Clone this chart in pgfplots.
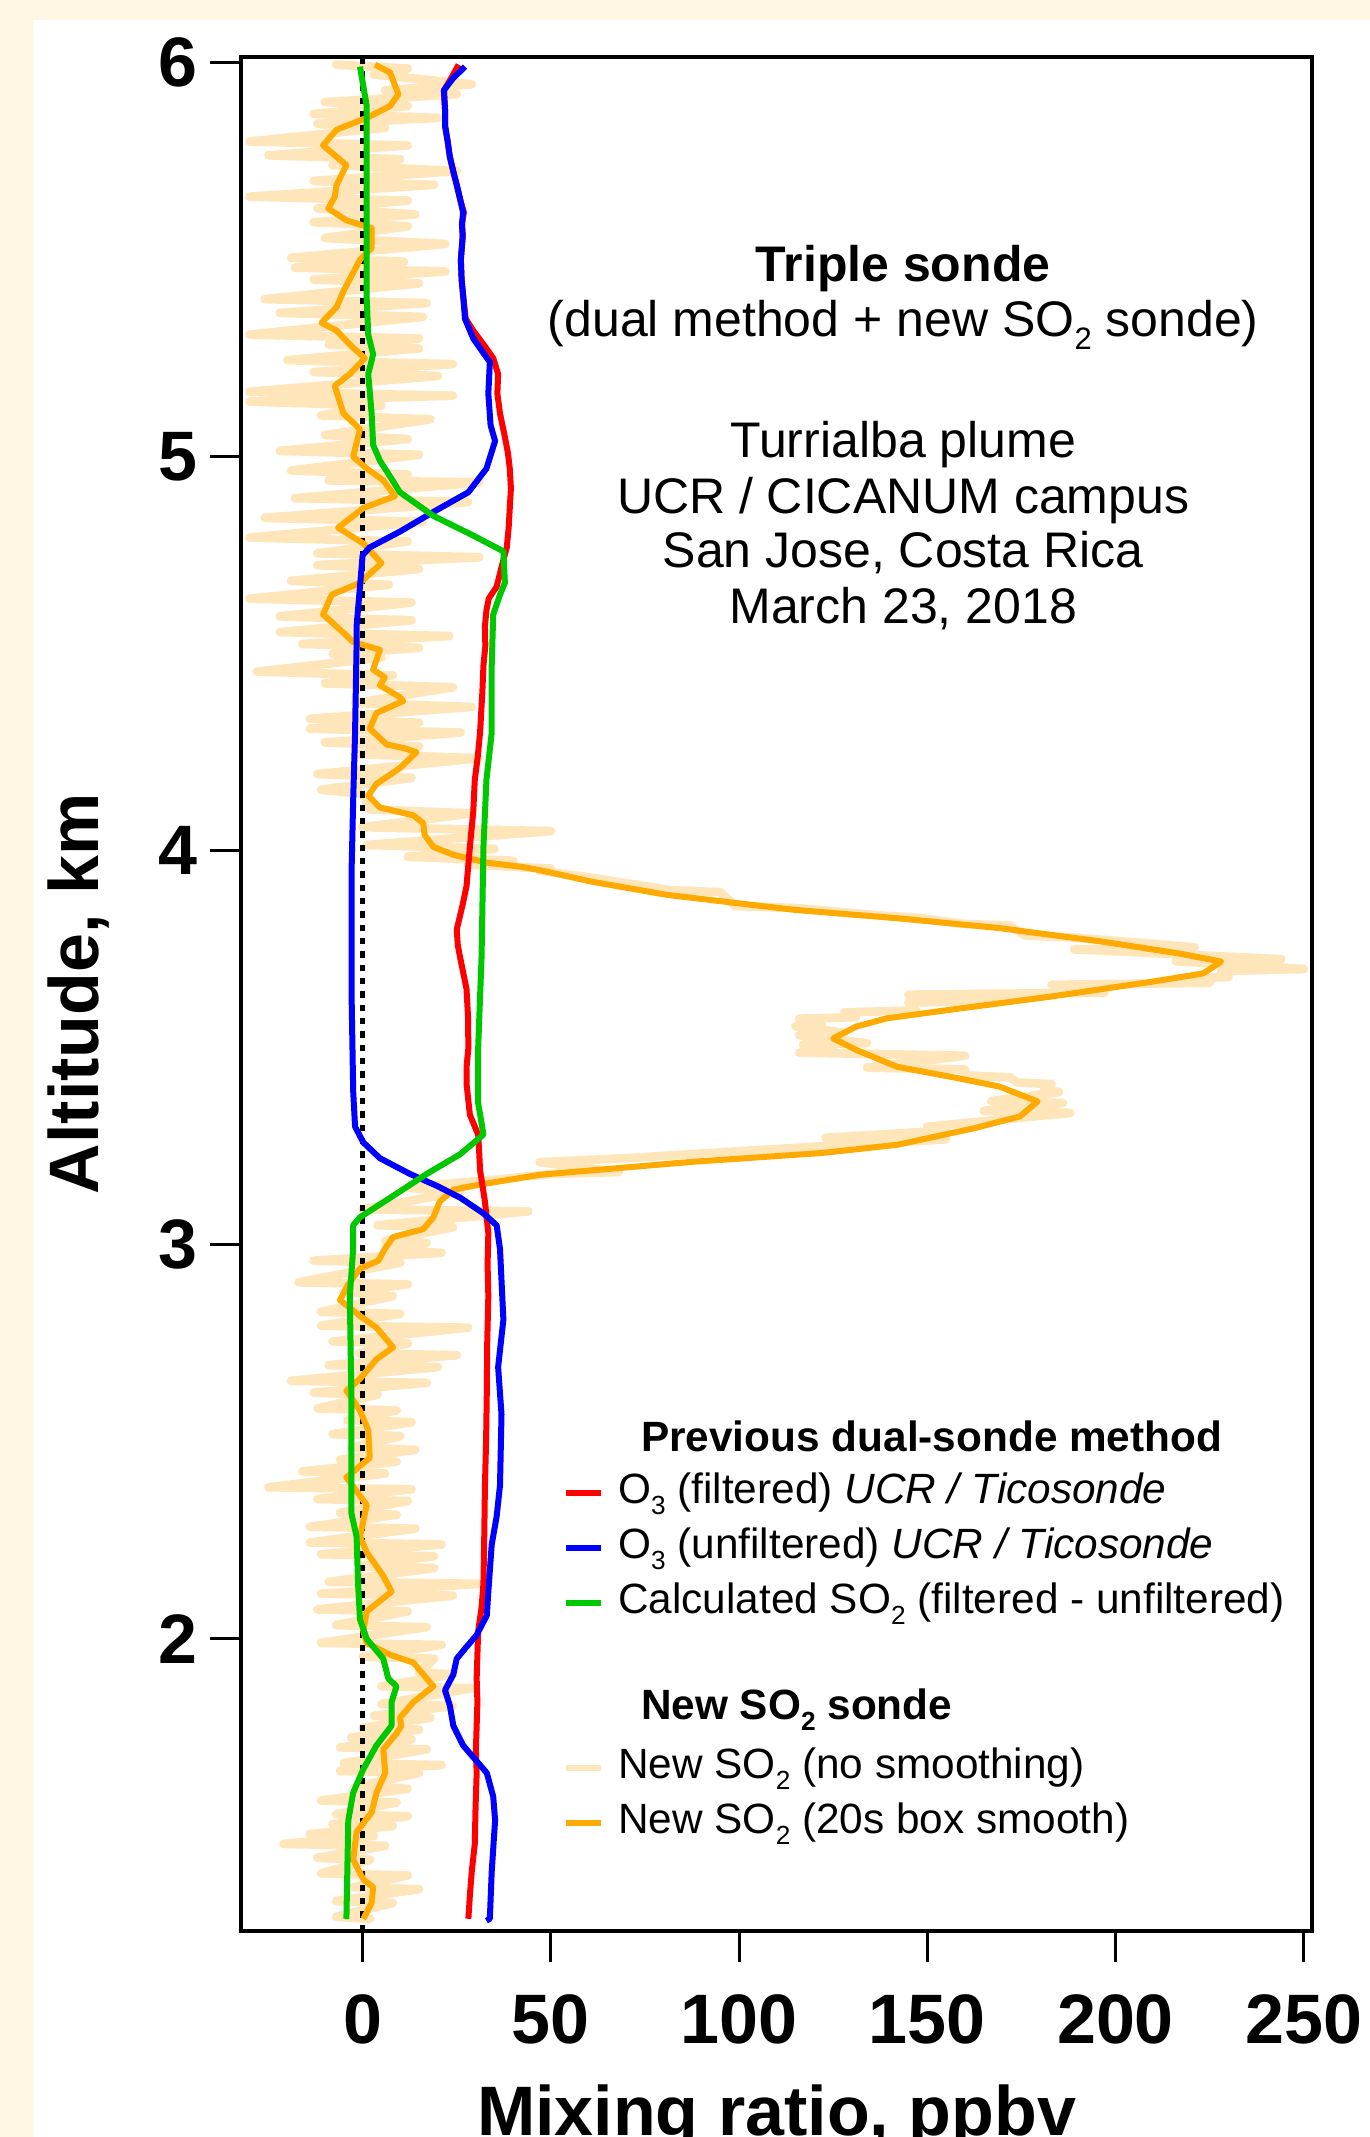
\documentclass[border=0pt]{standalone}
\usepackage{fontspec}
\setmainfont{Liberation Sans}
\usepackage{graphicx}
\usepackage{pgfplots}
\pgfplotsset{compat=1.18}
\definecolor{bgcream}{RGB}{255,247,228}
\definecolor{rawor}{RGB}{255,229,186}
\definecolor{smor}{RGB}{255,170,0}
\definecolor{grn}{RGB}{0,200,0}
\newcommand{\sub}[1]{\raisebox{-0.25em}{\scalebox{0.62}{#1}}}
\newcommand{\txt}{\fontsize{15}{16.5}\selectfont}
\newcommand{\lgd}{\fontsize{12.7}{16.5}\selectfont}
\begin{document}
\begin{tikzpicture}
\useasboundingbox (0,0) rectangle (410.7pt,641.1pt);
\fill[bgcream] (-2pt,-2pt) rectangle (413pt,643pt);
\fill[white] (9.9pt,-2pt) rectangle (413pt,635.1pt);
\begin{axis}[
  at={(72.3pt,61.8pt)}, anchor=south west,
  scale only axis, width=321.3pt, height=562.2pt,
  xmin=-32.3, xmax=252.2, ymin=1.259, ymax=6.0145,
  axis line style={line width=1.2pt},
  tick pos=left, tick align=outside,
  major tick length=9.3pt,
  major tick style={black, line width=0.9pt},
  xtick={0,50,100,150,200,250}, ytick={2,3,4,5,6},
  /pgf/number format/assume math mode=true,
  ticklabel style={font=\fontsize{21}{21}\selectfont\bfseries},
  xticklabel style={inner sep=0pt, yshift=-9.6pt},
  yticklabel style={inner sep=0pt, xshift=-3.6pt},
  xlabel={\textbf{Mixing ratio, ppbv}},
  ylabel={\textbf{Altitude, km}},
  every axis x label/.style={at={(rel axis cs:0.5,0)}, anchor=base, yshift=-61.4pt, font=\fontsize{21}{21}\selectfont},
  every axis y label/.style={at={(rel axis cs:0,0.5)}, xshift=-42.9pt, rotate=90, anchor=base, font=\fontsize{21}{21}\selectfont},
  clip=true,
  legend image code/.code={\path[draw=none, fill=none] (0pt,-3.5pt) -- (10.4pt,-3.5pt); \draw[#1] (0pt,0pt) -- (10.4pt,0pt);},
  legend cell align=left,
  legend style={draw=none, fill=none, inner sep=0pt, outer sep=0pt,
    at={(axis cs:53.2,2.5796)}, anchor=north west,
    column sep=4.2pt, row sep=0pt,
    font=\lgd,
    nodes={inner sep=0pt, outer sep=0pt, text height=11.5pt, text depth=5pt}},
]
% raw SO2 (no smoothing)
\addplot[rawor, line width=2.6pt, line cap=round, line join=round, forget plot] coordinates {
(-7,5.995) (12,5.985) (3,5.97) (29,5.945) (6,5.93) (25,5.92) (-10,5.90) (12,5.89) (-13,5.87) (20,5.86)
(-12,5.845) (6,5.835) (-30,5.80) (12,5.79) (-25,5.765) (10,5.755) (-8,5.74) (25,5.725) (-13,5.70) (19,5.69)
(-30,5.66) (12,5.65) (-12,5.63) (14,5.615) (-13,5.595) (12,5.585) (-10,5.555) (22,5.54) (-19,5.505) (11,5.495)
(-18,5.48) (22,5.47) (-13,5.45) (15,5.44) (-26,5.40) (17,5.39) (-22,5.365) (16,5.355) (-30,5.31) (15,5.30)
(-9,5.285) (15,5.275) (-20,5.245) (24,5.235) (-13,5.215) (20,5.205) (-30,5.165) (24,5.155) (-30,5.14) (5,5.13)
(-11,5.105) (18,5.095) (-10,5.055) (12,5.045) (-22,5.015) (15,5.005) (-19,4.965) (12,4.955) (-9,4.94) (31,4.935)
(-18,4.895) (28,4.885) (-26,4.845) (16,4.835) (-30,4.795) (12,4.785) (-12,4.755) (31,4.745) (-12,4.725) (15,4.715)
(-19,4.685) (7,4.675) (-30,4.64) (13,4.63) (-22,4.595) (13,4.585) (-22,4.555) (23,4.545) (-16,4.525) (15,4.515)
(-8,4.50) (5,4.49) (-28,4.455) (8,4.445) (-10,4.425) (24,4.415) (-2,4.375) (29,4.365) (-14,4.335) (15,4.325)
(-14,4.31) (26,4.30) (-10,4.275) (15,4.265) (-1,4.245) (31,4.235) (-12,4.195) (13,4.185) (-11,4.155) (0,4.145)
(2,4.105) (29,4.095) (0,4.06) (50,4.05) (1,4.015) (35,4.005) (12,3.985) (40,3.975) (28,3.965) (50,3.955)
(47,3.95) (62,3.93) (82,3.90) (95,3.895) (99,3.86) (115,3.855) (139,3.835) (148,3.83) (159,3.815) (172,3.81)
(176,3.785) (189,3.78) (221,3.755) (189,3.75) (244,3.725) (216,3.72) (250,3.70) (228,3.695) (230,3.68) (216,3.675)
(225,3.665) (183,3.66) (197,3.64) (145,3.635) (172,3.62) (145,3.615) (147,3.595) (128,3.59) (131,3.578) (116,3.574)
(122,3.558) (115,3.555) (128,3.538) (116,3.532) (134,3.512) (117,3.508) (125,3.492) (116,3.488) (160,3.48) (134,3.45)
(160,3.445) (160,3.43) (172,3.425) (174,3.412) (183,3.408) (181,3.392) (185,3.388) (167,3.365) (186,3.36) (165,3.34)
(188,3.335) (150,3.30) (155,3.29) (123,3.272) (155,3.268) (104,3.24) (70,3.22) (47,3.21) (68,3.185) (50,3.18)
(35,3.165) (28,3.16) (12,3.145) (26,3.135) (0,3.09) (44,3.085) (4,3.05) (24,3.045) (6,3.01) (17,3.005)
(6,2.985) (21,2.98) (-13,2.96) (10,2.955) (-17,2.905) (12,2.90) (-5,2.88) (8,2.87) (-11,2.83) (10,2.825)
(-11,2.795) (28,2.79) (-8,2.755) (12,2.75) (-1,2.725) (25,2.72) (-9,2.695) (20,2.69) (-19,2.655) (17,2.65)
(-13,2.625) (4,2.62) (-12,2.585) (9,2.58) (-4,2.555) (13,2.55) (-8,2.52) (10,2.515) (-3,2.485) (14,2.48)
(-6,2.455) (9,2.45) (-16,2.425) (6,2.42) (-25,2.385) (13,2.38) (-12,2.355) (12,2.35) (-6,2.32) (9,2.315)
(-14,2.285) (14,2.28) (-14,2.245) (21,2.24) (-11,2.215) (19,2.21) (-1,2.185) (19,2.18) (-9,2.145) (31,2.14)
(-11,2.115) (24,2.11) (-12,2.075) (12,2.07) (-7,2.035) (17,2.03) (-11,1.99) (21,1.985) (0,1.955) (19,1.95)
(15,1.915) (24,1.91) (5,1.88) (29,1.875) (5,1.835) (24,1.83) (3,1.805) (18,1.80) (0,1.775) (15,1.77)
(-3,1.75) (13,1.745) (-6,1.725) (17,1.72) (-5,1.685) (21,1.68) (-6,1.665) (15,1.66) (-2,1.625) (12,1.62)
(-11,1.59) (9,1.585) (-7,1.555) (12,1.55) (-8,1.53) (8,1.525) (-14,1.505) (3,1.50) (-21,1.48) (6,1.475)
(-12,1.445) (2,1.44) (-11,1.405) (12,1.40) (-2.5,1.37) (15,1.365) (-7,1.335) (8,1.33) (-7,1.295) (2,1.29)
};
% zero line
\addplot[black, line width=1.3pt, dash pattern=on 1.9pt off 2.1pt, forget plot] coordinates {(0,1.259) (0,6.0145)};
% smoothed SO2
\addplot[smor, line width=1.8pt, line join=round, forget plot] coordinates {
(3.3,5.995) (7.3,5.975) (9.5,5.92) (7.3,5.89) (1.1,5.86) (-6.9,5.83) (-10.5,5.79) (-4.3,5.74) (-6.9,5.69) (-7.4,5.66)
(-9.1,5.63) (-4.3,5.60) (2.4,5.58) (2.4,5.53) (-0.7,5.50) (-5.1,5.42) (-6.9,5.38) (-10.9,5.34) (-6.9,5.32) (-2.9,5.28)
(0.6,5.25) (-3.4,5.21) (-7.4,5.18) (-5.1,5.11) (-0.7,5.07) (-2.5,5.00) (1.1,4.97) (5.5,4.94) (8.6,4.90) (0.2,4.87)
(-6.5,4.82) (0.2,4.78) (5.0,4.73) (-0.7,4.68) (-8.2,4.65) (-10.5,4.60) (-4.7,4.55) (-2.5,4.53) (4.6,4.51) (2.8,4.46)
(5.9,4.44) (4.6,4.42) (9.9,4.39) (10.8,4.38) (3.7,4.35) (1.9,4.31) (6.4,4.27) (11.2,4.26) (14.3,4.25) (9.9,4.21)
(3.7,4.17) (1.5,4.14) (4.6,4.11) (13.5,4.09) (16.1,4.07) (16.5,4.04) (18.8,4.01) (24.1,3.99) (33.0,3.97) (41.8,3.96)
(47.1,3.951) (60.7,3.922) (81.0,3.888) (114.9,3.850) (142.0,3.829) (169.1,3.804) (196.2,3.770) (216.6,3.740) (228.1,3.719) (223.3,3.689)
(209.8,3.668) (182.7,3.630) (155.5,3.596) (139.3,3.575) (131.1,3.554) (125.0,3.524) (131.1,3.495) (142.0,3.452) (158.2,3.423) (169.1,3.402)
(179.3,3.364) (174.6,3.326) (162.4,3.296) (142.0,3.254) (121.7,3.233) (87.8,3.211) (47.1,3.178) (35.6,3.16) (29.4,3.15) (24.1,3.14)
(20.5,3.11) (18.8,3.07) (16.1,3.04) (8.1,3.02) (5.9,2.99) (4.2,2.96) (-0.7,2.94) (-3.8,2.90) (-6.0,2.86) (-0.7,2.82)
(3.7,2.79) (8.1,2.74) (3.7,2.71) (-0.7,2.66) (-4.3,2.63) (-0.7,2.58) (1.5,2.53) (1.9,2.46) (-4.3,2.41) (1.1,2.34)
(-0.7,2.26) (1.1,2.22) (5.5,2.16) (7.7,2.12) (1.1,2.07) (0.2,2.02) (1.1,1.99) (7.3,1.96) (13.5,1.94) (17.0,1.90)
(18.8,1.88) (13.5,1.84) (9.9,1.80) (10.3,1.78) (9.0,1.76) (5.5,1.72) (6.0,1.66) (3.7,1.61) (2.4,1.56) (-1.6,1.51)
(-2.5,1.44) (0.2,1.39) (2.8,1.37) (2.4,1.33) (0.2,1.29)
};
% O3 filtered
\addplot[red, line width=1.8pt, line join=round, forget plot] coordinates {
(25.5,5.995) (23.5,5.96) (21.6,5.93) (21.9,5.88) (21.9,5.84) (22.6,5.80) (23.2,5.76) (24.2,5.72) (25.0,5.69) (26.0,5.65)
(26.9,5.62) (26.4,5.59) (26.6,5.56) (26.1,5.50) (26.3,5.45) (26.8,5.40) (27.4,5.35) (29.4,5.32) (32.5,5.28) (34.7,5.25)
(36.0,5.21) (35.8,5.16) (36.5,5.11) (37.8,5.05) (38.6,5.01) (39.1,4.97) (39.4,4.92) (39.1,4.87) (38.8,4.82) (38.3,4.77)
(36.9,4.72) (35.6,4.67) (33.5,4.64) (32.9,4.61) (32.5,4.57) (32.6,4.52) (32.1,4.47) (31.8,4.40) (31.5,4.35) (31.2,4.30)
(30.6,4.24) (29.8,4.18) (29.4,4.10) (28.9,4.05) (28.5,4.01) (27.6,3.91) (26.5,3.86) (25.0,3.80) (25.3,3.76) (25.9,3.73)
(27.6,3.65) (28.0,3.58) (28.1,3.50) (27.6,3.45) (27.6,3.41) (28.5,3.33) (30.7,3.28) (31.0,3.23) (31.2,3.19) (32.5,3.11)
(33.4,3.03) (33.2,2.95) (33.4,2.87) (33.1,2.75) (33.0,2.63) (32.8,2.50) (32.5,2.39) (32.3,2.25) (32.1,2.14) (31.6,2.08)
(30.7,2.02) (30.5,1.96) (30.3,1.90) (30.5,1.84) (30.3,1.78) (30.1,1.72) (30.3,1.66) (30.0,1.57) (29.8,1.48) (29.0,1.41)
(28.5,1.35) (28.1,1.29)
};
% O3 unfiltered
\addplot[blue, line width=1.8pt, line join=round, forget plot] coordinates {
(27.2,5.99) (24.0,5.96) (21.6,5.93) (21.9,5.88) (21.9,5.84) (22.6,5.80) (23.2,5.76) (24.2,5.72) (25.0,5.69) (26.0,5.65)
(26.7,5.62) (26.4,5.59) (26.6,5.56) (26.1,5.50) (26.3,5.45) (26.8,5.40) (27.2,5.35) (29.4,5.30) (33.8,5.24) (33.4,5.16)
(34.0,5.08) (35.2,5.04) (32.9,4.97) (28.1,4.91) (18.8,4.86) (9.9,4.81) (1.9,4.77) (0,4.75) (-0.7,4.67) (-1.6,4.57)
(-1.6,4.52) (-2.0,4.30) (-2.5,4.13) (-2.9,3.96) (-2.9,3.62) (-2.5,3.39) (-2.0,3.30) (0.2,3.26) (4.6,3.22) (12.6,3.18)
(19.7,3.15) (25.9,3.12) (32.1,3.08) (35.6,3.05) (36.5,2.99) (37.4,2.81) (36.0,2.69) (36.9,2.57) (36.5,2.39) (35.6,2.31)
(34.3,2.24) (33.4,2.12) (33.0,2.06) (30.3,2.01) (27.6,1.98) (25.0,1.95) (24.1,1.91) (21.9,1.87) (23.2,1.83) (24.1,1.78)
(26.7,1.73) (30.3,1.69) (33.0,1.66) (34.7,1.60) (35.2,1.54) (34.3,1.41) (33.8,1.29) (32.9,1.285)
};
% calculated SO2
\addplot[grn, line width=1.8pt, line join=round, forget plot] coordinates {
(-0.7,5.99) (1.1,5.89) (1.1,5.40) (1.5,5.31) (2.8,5.26) (1.5,5.21) (2.4,5.11) (2.8,5.03) (4.6,4.99) (7.3,4.95)
(9.9,4.91) (18.8,4.85) (29.4,4.80) (37.4,4.76) (37.8,4.68) (36.5,4.65) (34.7,4.60) (34.3,4.47) (34.3,4.30) (32.9,4.18)
(32.1,4.01) (31.6,3.73) (30.7,3.50) (30.7,3.36) (32.1,3.28) (25.9,3.23) (17.0,3.18) (9.0,3.13) (-0.7,3.07) (-2.5,3.05)
(-2.5,2.99) (-3.4,2.87) (-3.0,2.63) (-3.0,2.32) (-1.6,2.26) (-1.2,2.14) (-0.7,2.05) (1.1,2.00) (5.5,1.95) (6.8,1.90)
(9.0,1.88) (7.7,1.84) (7.7,1.78) (3.7,1.73) (0.2,1.67) (-2.5,1.61) (-3.8,1.54) (-4.3,1.29)
};
% legend
\addlegendimage{empty legend}\addlegendentry{\hspace{6.9pt}\raisebox{-0.9pt}{\textbf{Previous dual-sonde method}}}
\addlegendimage{red, line width=2pt}\addlegendentry{O\sub{3} (filtered) \textit{UCR / Ticosonde}}
\addlegendimage{blue, line width=2pt}\addlegendentry{O\sub{3} (unfiltered) \textit{UCR / Ticosonde}}
\addlegendimage{grn, line width=2pt}\addlegendentry{Calculated SO\sub{2} (filtered - unfiltered)}
\addlegendimage{empty legend}\addlegendentry{}
\addlegendimage{empty legend}\addlegendentry{\hspace{6.9pt}\raisebox{1.2pt}{\textbf{New SO\sub{2} sonde}}}
\addlegendimage{rawor, line width=2pt}\addlegendentry{New SO\sub{2} (no smoothing)}
\addlegendimage{smor, line width=2pt}\addlegendentry{New SO\sub{2} (20s box smooth)}
% annotation text
\node[anchor=base, font=\txt\bfseries] at (axis cs:143.6,5.444) {Triple sonde};
\node[anchor=base, font=\txt] at (axis cs:143.6,5.304) {(dual method + new SO\sub{2} sonde)};
\node[anchor=base, font=\txt] at (axis cs:143.6,4.997) {Turrialba plume};
\node[anchor=base, font=\txt] at (axis cs:143.6,4.857) {UCR / CICANUM campus};
\node[anchor=base, font=\txt] at (axis cs:143.6,4.718) {San Jose, Costa Rica};
\node[anchor=base, font=\txt] at (axis cs:143.6,4.578) {March 23, 2018};
\end{axis}
\end{tikzpicture}
\end{document}
